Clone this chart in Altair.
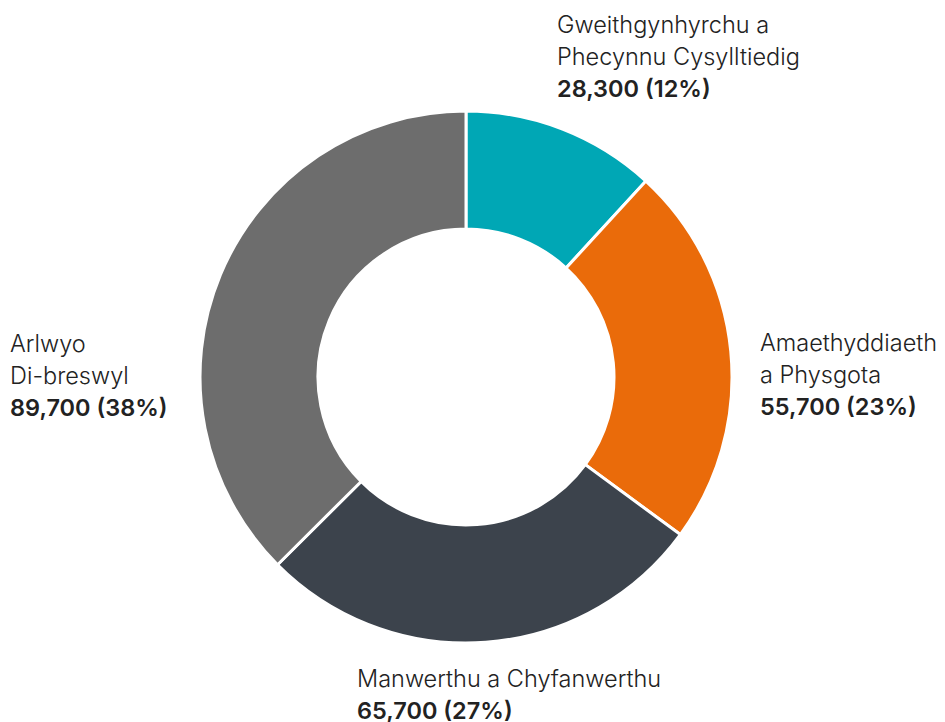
import altair as alt
import pandas as pd

# ---- data ----
categories = [
    "Gweithgynhyrchu a Phecynnu Cysylltiedig",
    "Amaethyddiaeth a Physgota",
    "Manwerthu a Chyfanwerthu",
    "Arlwyo Di-breswyl",
]
name_lines = [
    "Gweithgynhyrchu a\nPhecynnu Cysylltiedig",
    "Amaethyddiaeth\na Physgota",
    "Manwerthu a Chyfanwerthu",
    "Arlwyo\nDi-breswyl",
]
values = [28300, 55700, 65700, 89700]
percents = [12, 23, 27, 38]
colors = ["#00A7B5", "#EA6B0A", "#3C434C", "#6D6D6D"]

# ---- layout (chart pixel coordinates, not data) ----
label_x = [549, 752, 349, 2]
label_y = [25, 343, 679, 344]
LINE_H = 32
CX, CY = 458, 369

df = pd.DataFrame({
    "category": categories,
    "names": name_lines,
    "value": values,
    "order": list(range(len(categories))),
    "vlabel": [f"{v:,} ({p}%)" for v, p in zip(values, percents)],
    "lx": label_x,
    "ly": label_y,
    "vy": [y + LINE_H * n.count("\n") + LINE_H for y, n in zip(label_y, name_lines)],
})

FONT = "Inter"

arc = alt.Chart(df).mark_arc(
    outerRadius=266, innerRadius=148, stroke="white", strokeWidth=3
).encode(
    theta=alt.Theta("value:Q", stack=True),
    order=alt.Order("order:Q"),
    color=alt.Color("category:N", scale=alt.Scale(domain=categories, range=colors), legend=None),
    x=alt.value(CX),
    y=alt.value(CY),
)

names = alt.Chart(df).mark_text(
    align="left", baseline="alphabetic", font=FONT, fontSize=23.5, fontWeight=300,
    color="#222222", lineBreak="\n", lineHeight=LINE_H,
).encode(
    x=alt.X("lx:Q", scale=None),
    y=alt.Y("ly:Q", scale=None),
    text="names:N",
)

vals = alt.Chart(df).mark_text(
    align="left", baseline="alphabetic", font=FONT, fontSize=23.5, fontWeight=600,
    color="#222222",
).encode(
    x=alt.X("lx:Q", scale=None),
    y=alt.Y("vy:Q", scale=None),
    text="vlabel:N",
)

chart = alt.layer(arc, names, vals).properties(
    width=929, height=740, padding=0, autosize="none"
).configure_view(stroke=None)

chart.save("out.html", embed_options={"renderer": "svg", "actions": False})
